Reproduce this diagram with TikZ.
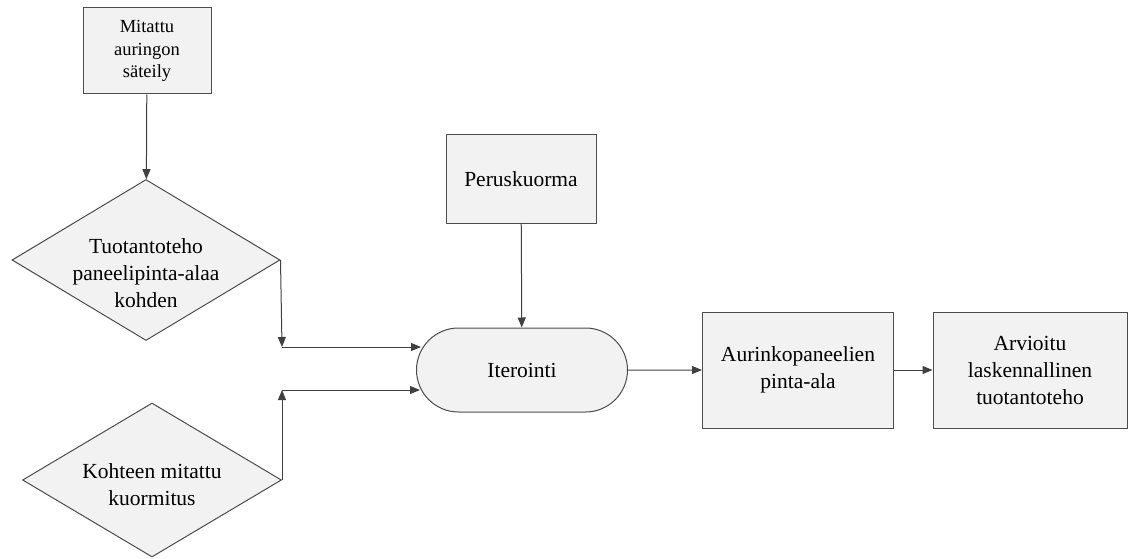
\documentclass[tikz,border=0pt]{standalone}
\usepackage{fontspec}
\setmainfont{Liberation Serif}
\usetikzlibrary{arrows.meta,shapes.geometric,shapes.misc}

\begin{document}
\begin{tikzpicture}[x=1pt,y=-1pt,
  box/.style={draw=black!70,fill=black!5,line width=1pt,rectangle,align=center,inner sep=0pt},
  dec/.style={draw=black!70,fill=black!5,line width=1pt,diamond,inner sep=0pt},
  term/.style={draw=black!70,fill=black!5,line width=1pt,rounded rectangle,align=center,inner sep=0pt},
  big/.style={font=\fontsize{21.5}{27}\selectfont},
  small/.style={font=\fontsize{18.5}{22.5}\selectfont},
  dectext/.style={big,align=center,inner sep=0pt},
  link/.style={draw=black!75,line width=1pt,-{Triangle[length=10pt,width=8pt]}}]
  \useasboundingbox (0,0) rectangle (1128,559);

  \node[box,small,minimum width=128,minimum height=86] (0) at (147,51) {Mitattu\\auringon\\säteily};

  \node[dec,minimum width=268,minimum height=161,
    label={[dectext,yshift=-13pt]center:Tuotantoteho\\paneelipinta-alaa\\kohden}] (1) at (146,260) {};
  \node[dec,minimum width=259,minimum height=154,
    label={[dectext,yshift=-5pt]center:Kohteen mitattu\\kuormitus}] (2) at (152,480) {};

  \node[term,big,minimum width=211,minimum height=84] (3) at (522,370) {Iterointi};
  \node[box,big,minimum width=150,minimum height=88] (4) at (521,179) {Peruskuorma};

  \node[box,big,minimum width=191,minimum height=116] (5) at (798,370) {Aurinkopaneelien\\pinta-ala};
  \node[box,big,minimum width=194,minimum height=116] (6) at (1030,370) {Arvioitu\\laskennallinen\\tuotantoteho};

  \coordinate (a) at (282,347);
  \coordinate (b) at (282,390);

  \draw[link] (0) -- (1);
  \draw[link] (1.east) -- (a);
  \draw[link] (a) -- ([xshift=5pt]a -| 3.west);
  \draw[link] (2.east) -- (b);
  \draw[link] (b) -- ([xshift=4pt]b -| 3.west);
  \draw[link] (4) -- (3);
  \draw[link] (3) -- (5);
  \draw[link] (5) -- (6);
\end{tikzpicture}
\end{document}
